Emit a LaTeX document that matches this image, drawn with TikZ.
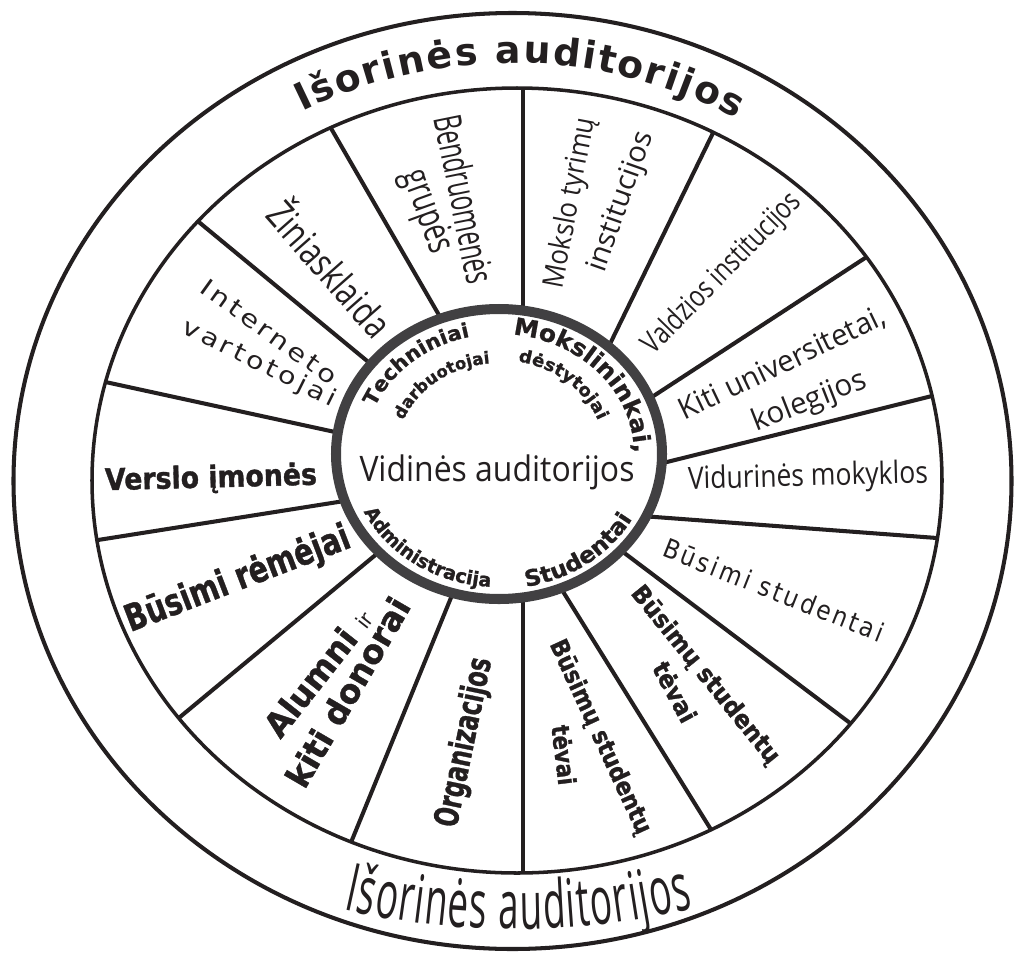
\documentclass[tikz,border=0pt]{standalone}
\usepackage{fontspec}
\usepackage{graphicx}
\usetikzlibrary{calc,decorations.text}
\setmainfont{Open Sans}
\newfontfamily\cnd{Open Sans}
\newfontfamily\nrw[FakeStretch=0.55]{Open Sans}
\newfontfamily\spc[LetterSpace=12]{DejaVu Sans}
\newfontfamily\hvy{DejaVu Sans Bold}
\newfontfamily\blk[FakeBold=1.2]{DejaVu Sans Bold}
\newfontfamily\blkw[FakeBold=0.8,FakeStretch=1.05]{DejaVu Sans Bold}
\newfontfamily\reg{DejaVu Sans}
\newlength\upx \setlength\upx{0.02cm}
\newcommand\fs[1]{\fontsize{#1}{#1}\selectfont}
% scale a label horizontally to a given width (in px units), keep its height
\newcommand\fitw[2]{\resizebox{#1\upx}{\height}{#2}}
\definecolor{ink}{HTML}{231F20}
\definecolor{ringgray}{HTML}{414042}

\begin{document}
\begin{tikzpicture}[x=0.02cm,y=0.02cm,
  rim/.style={draw=ink,line width=2.3pt},
  spoke/.style={draw=ink,line width=2.3pt},
  lab/.style={inner sep=0pt,outer sep=0pt,text=ink},
  arctext/.style={decorate,decoration={text along path,text align={fit to path},text color=ink,text={#1}}},
  arcmid/.style={decorate,decoration={text along path,text align=center,text color=ink,text={#1}}}]

\fill[white] (0,0) rectangle (1015,-954);
\useasboundingbox (0,0) rectangle (1015,-954);

% outer boundary
\draw[rim] (512.5,-481) ellipse [x radius=499, y radius=468];

% spoke end points: i = on the inner ring, o = on the middle ring
\coordinate (iA) at (443,-322); \coordinate (oA) at (332,-130);
\coordinate (iB) at (372,-365); \coordinate (oB) at (200,-223);
\coordinate (iC) at (335,-432); \coordinate (oC) at (110,-383);
\coordinate (iH) at (338,-502); \coordinate (oH) at (98,-540);
\coordinate (iI) at (373,-557); \coordinate (oI) at (180,-717);
\coordinate (iJ) at (448,-605); \coordinate (oJ) at (352,-840);
\coordinate (iK) at (523,-612); \coordinate (oK) at (523,-873);
\coordinate (iL) at (567,-598); \coordinate (oL) at (710,-828);
\coordinate (iM) at (627,-555); \coordinate (oM) at (850,-723);
\coordinate (iN) at (655,-517); \coordinate (oN) at (937,-538);
\coordinate (iG) at (667,-462); \coordinate (oG) at (928,-397);
\coordinate (iF) at (652,-397); \coordinate (oF) at (862,-260);
\coordinate (iE) at (608,-348); \coordinate (oE) at (712,-135);
\coordinate (iD) at (523,-308); \coordinate (oD) at (523,-90);

\begin{scope}
  \clip (517,-480.5) ellipse [x radius=425, y radius=392.5];
  \foreach \s in {A,B,C,D,E,F,G,H,I,J,K,L,M,N}
    \draw[spoke] ($(o\s)!1.1!(i\s)$) -- ($(i\s)!1.1!(o\s)$);
\end{scope}

% middle ring and inner ring
\draw[ink,line width=2pt] (517,-480.5) ellipse [x radius=425, y radius=392.5];
\draw[ringgray,line width=5.7pt,fill=white] (499,-454) ellipse [x radius=163, y radius=145];

% ring titles
\path[arctext={|\hvy\fs{21.5}|Išorinės auditorijos}]
  (512.5,-481) ++(118:448 and 418) arc[start angle=118, end angle=60, x radius=448, y radius=418];
\path[arctext={|\nrw\fs{38}|Išorinės auditorijos}]
  (515,-149) ++(257.3:780) arc[start angle=257.3, end angle=283.2, radius=780];

% inner audiences along the inner ring
\path[arcmid={|\blkw\fs{11.5}|Techniniai}]
  (499,-454) ++(163:135 and 120) arc[start angle=163, end angle=97, x radius=135, y radius=120];
\path[arcmid={|\blk\fs{9.5}|darbuotojai}]
  (499,-454) ++(164:103 and 91) arc[start angle=164, end angle=90, x radius=103, y radius=91];
\path[arcmid={|\blkw\fs{13.5}|Mokslininkai,}]
  (499,-454) ++(88:135 and 120) arc[start angle=88, end angle=-4, x radius=135, y radius=120];
\path[arcmid={|\blkw\fs{10}|dėstytojai}]
  (499,-454) ++(84:106 and 94) arc[start angle=84, end angle=16, x radius=106, y radius=94];
\path[arcmid={|\blk\fs{10.8}|Administracija}]
  (499,-454) ++(200:150 and 133) arc[start angle=200, end angle=272, x radius=150, y radius=133];
\path[arcmid={|\blkw\fs{12.8}|Studentai}]
  (499,-454) ++(276:152 and 135) arc[start angle=276, end angle=336, x radius=152, y radius=135];

\node[lab] (vidin) at (497,-472) {\fitw{275}{\cnd\fs{20}Vidinės auditorijos}};

% sector labels
\node[lab,rotate=-78.6] (bendrA) at (465,-199) {\fitw{171}{\cnd\fs{22}Bendruomenės}};
\node[lab,rotate=-70] (bendrB) at (426,-212) {\fitw{86}{\cnd\fs{22}grupės}};
\node[lab,rotate=-48.6] (zinia) at (332,-267) {\fitw{165}{\cnd\fs{22}Žiniasklaida}};
\node[lab,rotate=-35.7] (interA) at (269,-332) {\fitw{162}{\spc\fs{13.5}Interneto}};
\node[lab,rotate=-26.3] (interB) at (259,-364) {\fitw{168}{\spc\fs{13.5}vartotojai}};
\node[lab,rotate=79.3] (moksA) at (571,-203) {\fitw{173}{\cnd\fs{16.5}Mokslo tyrimų}};
\node[lab,rotate=70.6] (moksB) at (622,-202) {\fitw{147}{\cnd\fs{16.5}institucijos}};
\node[lab,rotate=45.7] (valdz) at (722.5,-274) {\fitw{213}{\cnd\fs{17}Valdzios institucijos}};
\node[lab,rotate=25.5] (kitiA) at (782.5,-364) {\fitw{225}{\cnd\fs{17}Kiti universitetai,}};
\node[lab,rotate=21.4] (kitiB) at (810,-402) {\fitw{120}{\cnd\fs{17}kolegijos}};
\node[lab,rotate=1.5] (vidur) at (808,-478) {\fitw{240}{\cnd\fs{17.5}Vidurinės mokyklos}};
\node[lab,rotate=-21.6] (busst) at (774,-590) {\fitw{235}{\spc\fs{15}Būsimi studentai}};
\node[lab,rotate=-51] (tevAa) at (705,-675) {\fitw{221}{\blk\fs{14}Būsimų studentų}};
\node[lab,rotate=-61.7] (tevAb) at (675,-692) {\fitw{65}{\blk\fs{14}tėvai}};
\node[lab,rotate=-65.2] (tevBa) at (600,-737) {\fitw{211}{\blk\fs{14}Būsimų studentų}};
\node[lab,rotate=-83] (tevBb) at (564,-755) {\fitw{60}{\blk\fs{14}tėvai}};
\node[lab,rotate=78.3] (organ) at (465,-742.5) {\fitw{172}{\blk\fs{19}Organizacijos}};
\node[lab,rotate=51.8] (alumA) at (318,-672) {\fitw{153}{\blk\fs{19}Alumni \reg\fs{12}ir}};
\node[lab,rotate=59.8] (alumB) at (347.5,-692) {\fitw{213}{\blk\fs{19}kiti donorai}};
\node[lab,rotate=21] (remej) at (238,-580) {\fitw{238}{\blk\fs{21}Būsimi rėmėjai}};
\node[lab,rotate=1.5] (versl) at (211,-479) {\fitw{212}{\blk\fs{17}Verslo įmonės}};

\end{tikzpicture}
\end{document}
